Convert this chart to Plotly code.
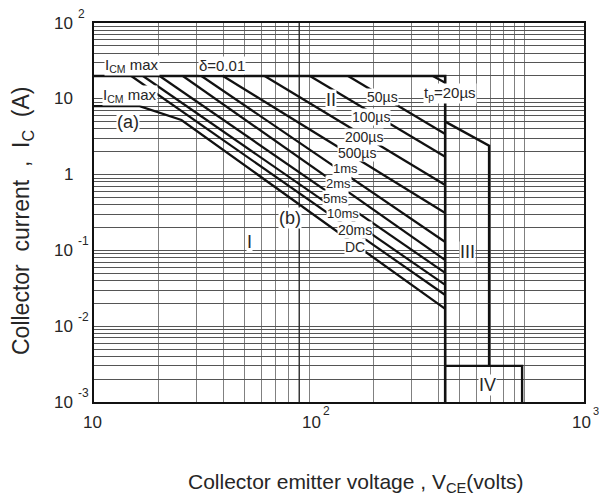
import math
import plotly.graph_objects as go

# ---------------- data ----------------
ICM_PULSE = 20.0          # A, pulsed collector current limit
ICM_DC = 8.0              # A, DC collector current limit
VCEO = 430.0              # V, voltage limit of the safe operating area

pulse_names = ["t<sub>p</sub>=20µs", "50µs", "100µs", "200µs", "500µs",
               "1ms", "2ms", "5ms", "10ms", "20ms"]
pulse_v_start = [377, 152, 101, 62.2, 39.8, 31.6, 25.9, 20.2, 16.9, 14.9]     # V where each line leaves ICM max
pulse_i_end = [16.3, 3.43, 1.72, 0.73, 0.311, 0.129, 0.0746, 0.0504, 0.035, 0.0258]  # A at VCEO

dc_v = [10, 16.3, 25.5, 430]
dc_i = [8.0, 8.0, 5.25, 0.0169]

soa_v = [10, 430, 430]
soa_i = [20, 20, 0.001]

reg3_v = [430, 688, 688]
reg3_i = [5.0, 2.4, 0.003]

reg4_v = [430, 980, 980]
reg4_i = [0.003, 0.003, 0.001]

x_grid = [20, 30, 40, 50, 60, 70, 80, 90, 100, 200, 300, 400, 500, 600, 700, 800, 900, 1000]
y_grid = [m * 10.0 ** e for e in range(-3, 2) for m in range(1, 10)]

y_tick_vals = [1e-3, 1e-2, 1e-1, 1, 10, 100]
y_tick_base = ["10", "10", "10", "1", "10", "10"]
y_tick_exp = ["-3", "-2", "-1", "", "", "2"]

# text labels: text, V, I, font size
label_text = ["I<sub>CM</sub> max", "δ=0.01", "I<sub>CM</sub> max", "(a)", "II",
              "50µs", "t<sub>p</sub>=20µs", "100µs", "200µs", "500µs", "1ms", "2ms",
              "5ms", "10ms", "20ms", "DC", "(b)", "I", "III", "IV"]
label_v = [15.0, 39.3, 14.7, 14.4, 126, 220, 451, 193.6, 179.7, 166.6, 148, 137.5,
           133, 143.4, 163.1, 163.1, 81.3, 53, 547, 678]
label_i = [27.9, 27.1, 11.2, 4.94, 9.64, 10.6, 11.9, 5.75, 3.13, 1.93, 1.2, 0.76,
           0.484, 0.305, 0.186, 0.111, 0.267, 0.129, 0.0953, 0.00168]
label_size = [15, 15, 15, 18, 18, 14, 15, 14, 14, 14, 13, 13,
              13, 13, 14, 14, 18, 18, 18, 18]

# ---------------- figure ----------------
FONT = "Liberation Sans, Arial, Helvetica, sans-serif"
TXT = "#262626"
fig = go.Figure()

def add_line(xs, ys, width=2.3, color="#111111"):
    fig.add_trace(go.Scatter(x=xs, y=ys, mode="lines", showlegend=False,
                             hoverinfo="skip", line=dict(color=color, width=width)))

# darker 90 V grid line
add_line([90, 90], [0.001, 100], width=1.2, color="#222222")

for vs, ie in zip(pulse_v_start, pulse_i_end):
    add_line([vs, VCEO], [ICM_PULSE, ie], width=2.2)
add_line(dc_v, dc_i, width=2.3)
add_line(soa_v, soa_i, width=2.6)
add_line(reg3_v, reg3_i, width=2.4)
add_line(reg4_v, reg4_i, width=2.4)

annotations = []
for t, v, i, s in zip(label_text, label_v, label_i, label_size):
    annotations.append(dict(x=math.log10(v), y=math.log10(i), xref="x", yref="y",
                            text=t, showarrow=False, bgcolor="white", borderpad=0,
                            font=dict(family=FONT, size=s, color=TXT)))

# y tick labels
for val, base, exp in zip(y_tick_vals, y_tick_base, y_tick_exp):
    annotations.append(dict(x=(75 - 94) / 490, y=math.log10(val), xref="paper", yref="y",
                            text=base, showarrow=False, xanchor="right", yanchor="middle",
                            font=dict(family=FONT, size=17, color=TXT)))
    if exp:
        annotations.append(dict(x=(76 - 94) / 490, y=math.log10(val), xref="paper", yref="y",
                                text=exp, showarrow=False, xanchor="left", yanchor="middle",
                                yshift=9, font=dict(family=FONT, size=12, color=TXT)))

# x tick labels
xb_y = (402 - 422) / 379
xs_y = (402 - 411) / 379
annotations.append(dict(x=1, y=xb_y, xref="x", yref="paper", text="10", showarrow=False,
                        xanchor="center", yanchor="middle", xshift=-1.5,
                        font=dict(family=FONT, size=17, color=TXT)))
annotations.append(dict(x=2, y=xb_y, xref="x", yref="paper", text="10", showarrow=False,
                        xanchor="center", yanchor="middle", xshift=2,
                        font=dict(family=FONT, size=17, color=TXT)))
annotations.append(dict(x=2, y=xs_y, xref="x", yref="paper", text="2", showarrow=False,
                        xanchor="left", yanchor="middle", xshift=12,
                        font=dict(family=FONT, size=12, color=TXT)))
annotations.append(dict(x=1, y=xb_y, xref="paper", yref="paper", text="10", showarrow=False,
                        xanchor="center", yanchor="middle", xshift=-2.5,
                        font=dict(family=FONT, size=17, color=TXT)))
annotations.append(dict(x=1, y=xs_y, xref="paper", yref="paper", text="3", showarrow=False,
                        xanchor="left", yanchor="middle", xshift=7,
                        font=dict(family=FONT, size=11, color=TXT)))

# axis titles
annotations.append(dict(x=(356 - 94) / 490, y=(402 - 483) / 379, xref="paper", yref="paper",
                        text="Collector emitter voltage , V<sub>CE</sub>(volts)", showarrow=False,
                        xanchor="center", yanchor="middle",
                        font=dict(family=FONT, size=21, color=TXT)))
annotations.append(dict(x=(22 - 94) / 490, y=(402 - 221) / 379, xref="paper", yref="paper",
                        text="Collector\u00a0 current\u00a0 ,\u00a0 I<sub>C</sub>\u00a0 (A)", showarrow=False,
                        xanchor="center", yanchor="middle", textangle=-90,
                        font=dict(family=FONT, size=23, color=TXT)))

fig.update_layout(
    width=599, height=498,
    margin=dict(l=94, r=15, t=23, b=96),
    paper_bgcolor="white", plot_bgcolor="white",
    annotations=annotations,
    xaxis=dict(type="log", range=[1, 1 + 490 / 215], tickvals=x_grid,
               showticklabels=False, ticks="", showgrid=True, gridcolor="#808080",
               gridwidth=1, showline=True, linecolor="#111111", linewidth=1.5,
               mirror=True, zeroline=False),
    yaxis=dict(type="log", range=[-3, 2], tickvals=y_grid,
               showticklabels=False, ticks="", showgrid=True, gridcolor="#555555",
               gridwidth=1, showline=True, linecolor="#111111", linewidth=1.5,
               mirror=True, zeroline=False),
)

fig.write_html("out.html")
